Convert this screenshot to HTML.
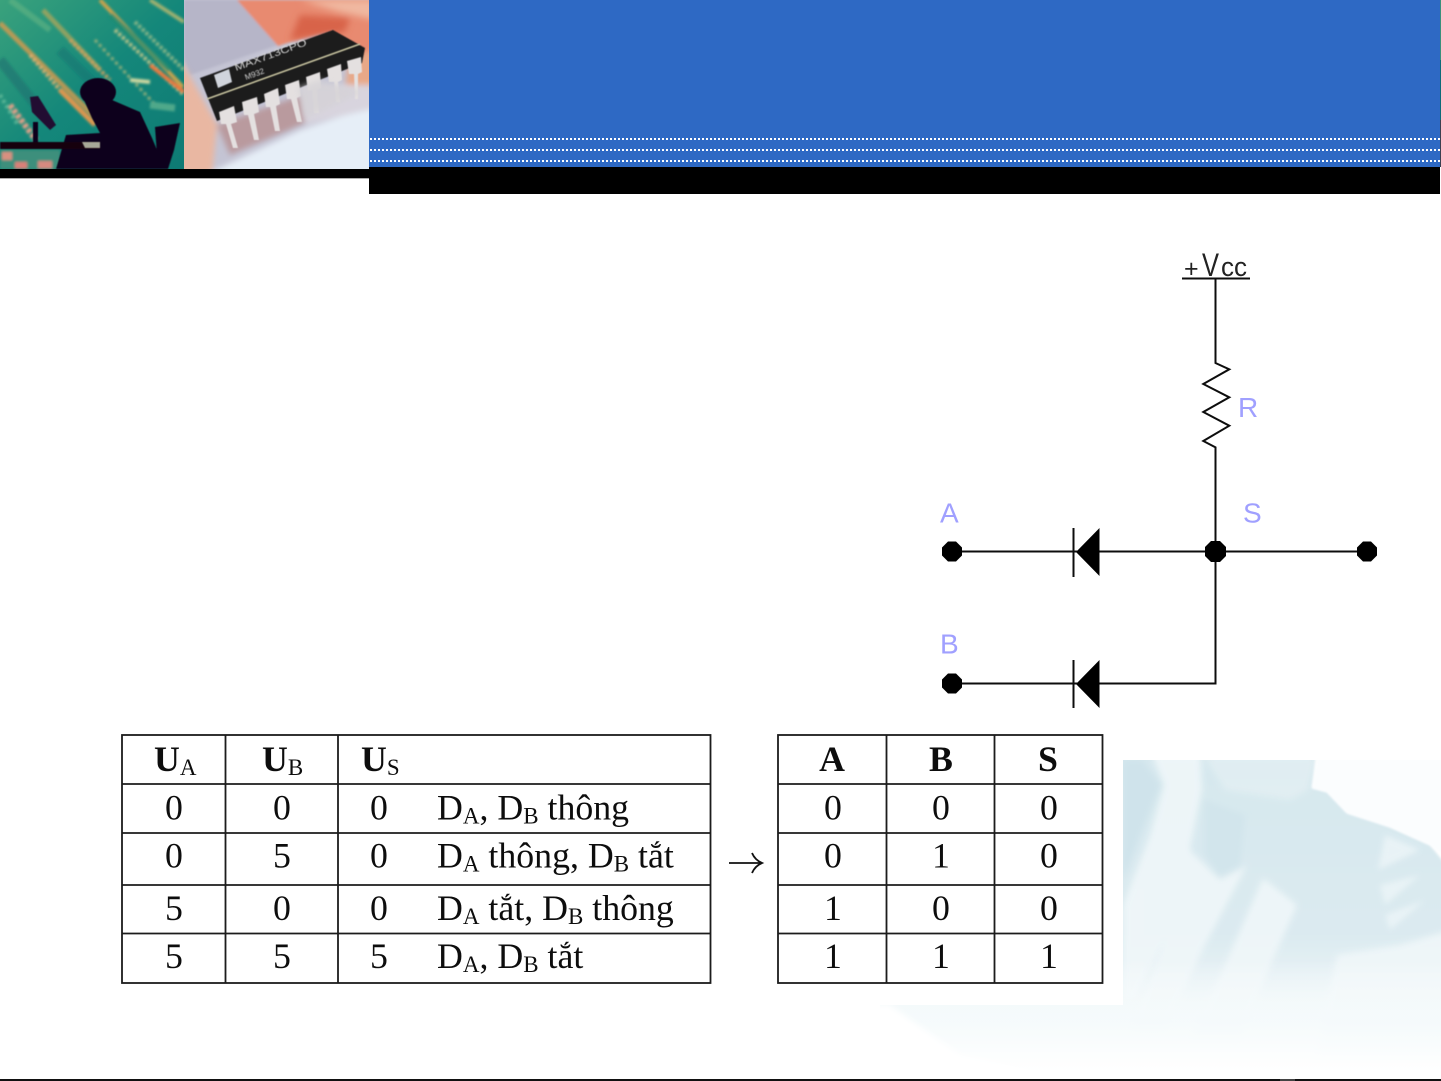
<!DOCTYPE html>
<html><head><meta charset="utf-8"><style>
html,body{margin:0;padding:0;background:#fff;width:1441px;height:1081px;overflow:hidden}
svg{display:block}
.t{font-family:"Liberation Serif",serif;font-size:35.800px;fill:#111}
.s{font-size:23px;font-weight:normal}
.m{text-anchor:middle}
.l{font-family:"Liberation Sans",sans-serif;font-size:28px;fill:#a0a0ff}
.v{font-family:"Liberation Sans",sans-serif;fill:#222}
</style></head><body>
<svg width="1441" height="1081" viewBox="0 0 1441 1081" xmlns="http://www.w3.org/2000/svg">
<defs>
<filter id="b1" x="-20%" y="-20%" width="140%" height="140%"><feGaussianBlur stdDeviation="1.200"/></filter>
<filter id="b2" x="-20%" y="-20%" width="140%" height="140%"><feGaussianBlur stdDeviation="3"/></filter>
<filter id="b4" x="-30%" y="-30%" width="160%" height="160%"><feGaussianBlur stdDeviation="3.500"/></filter>
<filter id="b0" x="-20%" y="-20%" width="140%" height="140%"><feGaussianBlur stdDeviation="0.600"/></filter>
<filter id="bt" x="-2%" y="-2%" width="104%" height="104%"><feGaussianBlur stdDeviation="0.350"/></filter>
<linearGradient id="fig" gradientUnits="userSpaceOnUse" x1="0" y1="760" x2="0" y2="1075">
<stop offset="0" stop-color="#d6e8ee"/><stop offset=".55" stop-color="#dbeaf0"/><stop offset=".72" stop-color="#e9f3f6"/><stop offset=".85" stop-color="#f5fafb"/><stop offset="1" stop-color="#ffffff"/>
</linearGradient>
<linearGradient id="fade" gradientUnits="userSpaceOnUse" x1="0" y1="960" x2="0" y2="1072">
<stop offset="0" stop-color="#fff" stop-opacity="0"/><stop offset=".55" stop-color="#f6fbfc" stop-opacity=".8"/><stop offset="1" stop-color="#fff" stop-opacity="1"/>
</linearGradient>
<linearGradient id="pcbg" x1="0" y1="0" x2="1" y2="1">
<stop offset="0" stop-color="#3aa27c"/><stop offset=".5" stop-color="#14877a"/><stop offset="1" stop-color="#0e7a74"/>
</linearGradient>
<clipPath id="c1"><rect x="0" y="0" width="184" height="169"/></clipPath>
<clipPath id="c2"><rect x="184" y="0" width="185" height="169"/></clipPath>
<clipPath id="c3"><path d="M1123 760H1441V1079H880V1005H1123Z"/></clipPath>
</defs>

<!-- background figure -->
<g clip-path="url(#c3)">
<path d="M1090 730H1318L1312 788L1327 792L1347 813L1390 827L1430 845L1450 870V1100H860V960H1090Z" fill="url(#fig)" filter="url(#b1)"/>
<path d="M1320 750H1450V860L1430 845L1390 827L1347 813L1327 792L1312 788Z" fill="#fbfdfe" filter="url(#b1)"/>
<g filter="url(#b4)" fill="#f0f7f9" opacity=".9">
<path d="M1150 750L1164 785L1150 835L1123 905V1000H1135L1180 910L1196 860L1190 848L1202 790L1200 750Z"/>
<path d="M1195 855L1220 880L1247 865L1205 945L1165 1030H1130L1165 940Z"/>
<path d="M1263 878L1297 905L1272 962L1240 1040H1190L1225 965Z"/>
<path d="M1337 955L1400 945L1450 930V1060H1315Z"/>
<path d="M1200 750H1318L1308 790L1290 800L1225 790Z" opacity=".45"/>
</g>
<path d="M1385 835L1378 870L1420 850Z" fill="#f0f7f9" filter="url(#b2)" opacity=".7"/>
<path d="M1380 885L1420 875L1385 905ZM1385 915L1425 900L1390 930Z" fill="#eff7f9" filter="url(#b2)" opacity=".7"/>
<path d="M1123 760H1142L1160 785L1140 835L1123 880Z" fill="#cfe3eb" filter="url(#b2)"/>
<path d="M1205 800L1245 815L1240 865L1220 875L1205 855Z" fill="#d2e5ec" filter="url(#b2)"/>
<rect x="860" y="960" width="600" height="125" fill="url(#fade)"/>
<path d="M860 1005L890 1005L960 1055L1100 1085H860Z" fill="#fff" filter="url(#b2)"/>
</g>
<rect x="0" y="1079" width="1441" height="2" fill="#111"/>
<rect x="1280" y="1079" width="15" height="2" fill="#666" opacity=".6"/>

<!-- header -->
<rect x="369" y="0" width="1071" height="167" fill="#2e69c4"/>
<rect x="369" y="167" width="1071" height="27" fill="#000"/>
<rect x="0" y="169" width="369" height="9" fill="#000"/>
<rect x="0" y="178" width="369" height="1" fill="#aaa"/>
<g stroke="#fff" stroke-width="2" stroke-dasharray="2 2">
<line x1="370" y1="139" x2="1440" y2="139"/>
<line x1="370" y1="150" x2="1440" y2="150"/>
<line x1="370" y1="161" x2="1440" y2="161"/>
</g>
<rect x="1440" y="0" width="1" height="60" fill="#3a8f7c"/>
<rect x="1440" y="60" width="1" height="60" fill="#0d6a78"/>
<rect x="1440" y="120" width="1" height="47" fill="#3a4050"/>

<!-- PCB image -->
<g clip-path="url(#c1)">
<rect width="184" height="169" fill="url(#pcbg)"/>
<g filter="url(#b1)" fill="none">
<path d="M100 0L183 87" stroke="#c6a24e" stroke-width="4"/>
<path d="M0 23L100 122" stroke="#cf9a50" stroke-width="5" opacity=".85"/>
<path d="M43 10L100 70" stroke="#a8a55c" stroke-width="5" opacity=".8"/>
<path d="M150 0L184 22" stroke="#9fb070" stroke-width="4"/>
<path d="M115 30L184 95" stroke="#c0c488" stroke-width="4" stroke-dasharray="3 2"/>
<path d="M135 22L184 70" stroke="#8fb888" stroke-width="4" stroke-dasharray="3 2"/>
<path d="M95 40L160 110" stroke="#9db27a" stroke-width="3" stroke-dasharray="3 3"/>
<path d="M70 40L110 80" stroke="#cba060" stroke-width="4" stroke-dasharray="3 2"/>
<path d="M30 55L60 90" stroke="#d8b070" stroke-width="4" stroke-dasharray="3 2"/>
<path d="M60 90L95 125" stroke="#dc9650" stroke-width="5"/>
<path d="M150 65L184 92" stroke="#e87a40" stroke-width="4"/>
<path d="M10 105L36 140" stroke="#e0a088" stroke-width="6" stroke-dasharray="4 2"/>
<path d="M0 60L40 110" stroke="#1a6f70" stroke-width="10" opacity=".6"/>
<path d="M60 50L110 100" stroke="#0d7072" stroke-width="10" opacity=".5"/>
<path d="M110 15L170 70" stroke="#1f8c70" stroke-width="6" opacity=".7"/>
<path d="M130 80L150 82" stroke="#cfd8a0" stroke-width="4"/>
<path d="M150 105L175 108" stroke="#4fa88a" stroke-width="7"/>
<path d="M0 95L18 125" stroke="#5fb898" stroke-width="4" stroke-dasharray="3 3"/>
<path d="M10 0L50 30" stroke="#62b484" stroke-width="6" opacity=".6"/>
</g>
<g filter="url(#b1)">
<rect x="0" y="150" width="60" height="19" fill="#3c8f7c"/>
<rect x="2" y="152" width="10" height="8" fill="#d89080"/>
<rect x="15" y="162" width="12" height="7" fill="#d88078"/>
<rect x="38" y="161" width="14" height="8" fill="#d68a80"/>
</g>
<g fill="#10001a" filter="url(#b0)">
<ellipse cx="98" cy="92" rx="18" ry="14"/>
<path d="M84 100L112 100L140 112L152 138L165 169H56L66 135L100 133L92 118Z"/>
<path d="M155 127L180 123L174 150L168 169H158Z"/>
<path d="M30 97L38 96L56 125L50 130L32 112Z" fill="#201030"/>
<rect x="33" y="122" width="5" height="20"/>
<rect x="0" y="142" width="100" height="7" fill="#180010"/>
</g>
<path d="M82 142H100V148H85Z" fill="#a8a898" filter="url(#b0)"/>
</g>

<!-- chip image -->
<g clip-path="url(#c2)">
<rect x="184" y="0" width="185" height="169" fill="#c4c4d4"/>
<g filter="url(#b1)">
<path d="M184 0H240L278 45L190 75L184 60Z" fill="#b6b5c8"/>
<path d="M237 0H375V92L345 60L333 28L278 46Z" fill="#e88a70"/>
</g>
<g filter="url(#b4)">
<path d="M300 0H375V20L340 12Z" fill="#f0b8a0"/>
<path d="M300 15L350 18L345 32L290 40Z" fill="#d8644a"/>
</g>
<g filter="url(#b2)">
<path d="M350 55L375 50V90L345 88Z" fill="#e8a888"/>
<path d="M178 55L195 85L217 125L212 175H178Z" fill="#e9b7a2"/>
<path d="M205 175L300 130L375 105V175Z" fill="#e6eef7"/>
<path d="M217 125L330 85L335 110L230 155Z" fill="#b99a9e"/>
<path d="M300 85L375 85V108L305 125Z" fill="#d8d4de"/>
</g>
<path d="M200 78L333 30L365 48L362 63L217 121Z" fill="#1a1a1c" filter="url(#b0)"/>
<path d="M207 99L360 44" stroke="#c8c4a0" stroke-width="1.500" filter="url(#b0)"/>
<path d="M214 75L229 69L232 82L218 88Z" fill="#d0d4dc" filter="url(#b0)"/>
<g font-family="Liberation Sans,sans-serif" font-size="10" fill="#d4d4d4" filter="url(#b0)">
<text transform="translate(236 71) rotate(-20)" textLength="76" lengthAdjust="spacingAndGlyphs">MAX713CPO</text>
<text transform="translate(246 80) rotate(-20)" font-size="8">M932</text>
</g>
<g fill="#e4e0e0" filter="url(#b0)">
<path d="M219 112L234 106L237 122L231 124L238 148L233 148L226 124L221 124Z"/>
<path d="M242 102L257 97L259 112L254 114L259 140L254 140L248 115L244 115Z"/>
<path d="M264 94L278 88L280 104L276 106L280 131L275 131L270 107L266 107Z"/>
<path d="M285 85L299 80L301 96L297 98L302 122L297 122L291 99L287 99Z"/>
<path d="M306 77L320 72L321 88L317 90L319 113L314 113L312 90L308 91Z"/>
<path d="M327 69L341 64L342 80L338 82L340 102L336 102L334 82L329 82Z"/>
<path d="M347 61L361 57L362 72L358 74L358 99L355 99L354 74L349 74Z"/>
</g>
<g fill="#d4d2d6" filter="url(#b2)" opacity=".75">
<path d="M298 88L320 80L362 92L320 112L305 118Z"/>
</g>
</g>

<!-- circuit -->
<g filter="url(#bt)">
<g stroke="#111" fill="none" stroke-width="2">
<line x1="1182" y1="278.500" x2="1250" y2="278.500"/>
<polyline points="1215.500,279 1215.500,363 1229.300,369.300 1203.300,384 1229.300,397.300 1203.300,412 1229.300,425.700 1203.300,441 1215.500,447.300 1215.500,683.500 952,683.500"/>
<line x1="952" y1="551.500" x2="1367" y2="551.500"/>
<line x1="1073.500" y1="528" x2="1073.500" y2="577"/>
<line x1="1073.500" y1="660" x2="1073.500" y2="708"/>
</g>
<path d="M1076 552L1099.500 528V576Z" fill="#000"/>
<path d="M1076 684L1099.500 660V708Z" fill="#000"/>
<path d="M948 541.500H956L962 547.500V555.500L956 561.500H948L942 555.500V547.500Z" fill="#000"/>
<path d="M1211 541H1220L1226 547V556L1220 562H1211L1205 556V547Z" fill="#000"/>
<path d="M1363 541.500H1371L1377 547.500V555.500L1371 561.500H1363L1357 555.500V547.500Z" fill="#000"/>
<path d="M948 673.500H956L962 679.500V687.500L956 693.500H948L942 687.500V679.500Z" fill="#000"/>
</g>
<text class="v" x="1184" y="277" font-size="25">+</text>
<text class="v" x="1202" y="276" font-size="32" textLength="17" lengthAdjust="spacingAndGlyphs">V</text>
<text class="v" x="1221" y="276" font-size="27" textLength="13" lengthAdjust="spacingAndGlyphs">c</text>
<text class="v" x="1234" y="276" font-size="27" textLength="13" lengthAdjust="spacingAndGlyphs">c</text>
<text class="l" x="1238" y="417">R</text>
<text class="l" x="940" y="522.500">A</text>
<text class="l" x="1243" y="522.500">S</text>
<text class="l" x="940" y="653.500">B</text>

<!-- tables -->
<g stroke="#1a1a1a" stroke-width="1.800" fill="none" filter="url(#bt)">
<rect x="122" y="735" width="588.500" height="248" fill="#fff"/>
<path d="M225.500 735V983M338 735V983M122 784H710.500M122 833H710.500M122 885H710.500M122 933.500H710.500"/>
<rect x="778" y="735" width="324.500" height="248" fill="#fff"/>
<path d="M886.500 735V983M994.500 735V983M778 784H1102.500M778 833H1102.500M778 885H1102.500M778 933.500H1102.500"/>
</g>

<g filter="url(#bt)">
<text class="t" x="154" y="771" font-weight="bold">U<tspan class="s" dy="4">A</tspan></text>
<text class="t" x="262" y="771" font-weight="bold">U<tspan class="s" dy="4">B</tspan></text>
<text class="t" x="361" y="771" font-weight="bold">U<tspan class="s" dy="4">S</tspan></text>

<text class="t m" x="174" y="819.500">0</text><text class="t m" x="282" y="819.500">0</text><text class="t m" x="379" y="819.500">0</text>
<text class="t m" x="174" y="867.500">0</text><text class="t m" x="282" y="867.500">5</text><text class="t m" x="379" y="867.500">0</text>
<text class="t m" x="174" y="920">5</text><text class="t m" x="282" y="920">0</text><text class="t m" x="379" y="920">0</text>
<text class="t m" x="174" y="968">5</text><text class="t m" x="282" y="968">5</text><text class="t m" x="379" y="968">5</text>

<text class="t" x="437" y="819.500">D<tspan class="s" dy="4">A</tspan><tspan dy="-4">, D</tspan><tspan class="s" dy="4">B</tspan><tspan dy="-4"> thông</tspan></text>
<text class="t" x="437" y="867.500">D<tspan class="s" dy="4">A</tspan><tspan dy="-4"> thông, D</tspan><tspan class="s" dy="4">B</tspan><tspan dy="-4"> tắt</tspan></text>
<text class="t" x="437" y="920">D<tspan class="s" dy="4">A</tspan><tspan dy="-4"> tắt, D</tspan><tspan class="s" dy="4">B</tspan><tspan dy="-4"> thông</tspan></text>
<text class="t" x="437" y="968">D<tspan class="s" dy="4">A</tspan><tspan dy="-4">, D</tspan><tspan class="s" dy="4">B</tspan><tspan dy="-4"> tắt</tspan></text>

<text class="t m" x="832" y="771" font-weight="bold">A</text><text class="t m" x="941" y="771" font-weight="bold">B</text><text class="t m" x="1048" y="771" font-weight="bold">S</text>
<text class="t m" x="833" y="819.500">0</text><text class="t m" x="941" y="819.500">0</text><text class="t m" x="1049" y="819.500">0</text>
<text class="t m" x="833" y="867.500">0</text><text class="t m" x="941" y="867.500">1</text><text class="t m" x="1049" y="867.500">0</text>
<text class="t m" x="833" y="920">1</text><text class="t m" x="941" y="920">0</text><text class="t m" x="1049" y="920">0</text>
<text class="t m" x="833" y="968">1</text><text class="t m" x="941" y="968">1</text><text class="t m" x="1049" y="968">1</text>
</g>

<!-- arrow -->
<g stroke="#111" stroke-width="1.800" fill="none">
<path d="M729 863H762"/>
<path d="M752 853Q755 860 762 863Q755 866 752 873"/>
</g>
</svg>
</body></html>
